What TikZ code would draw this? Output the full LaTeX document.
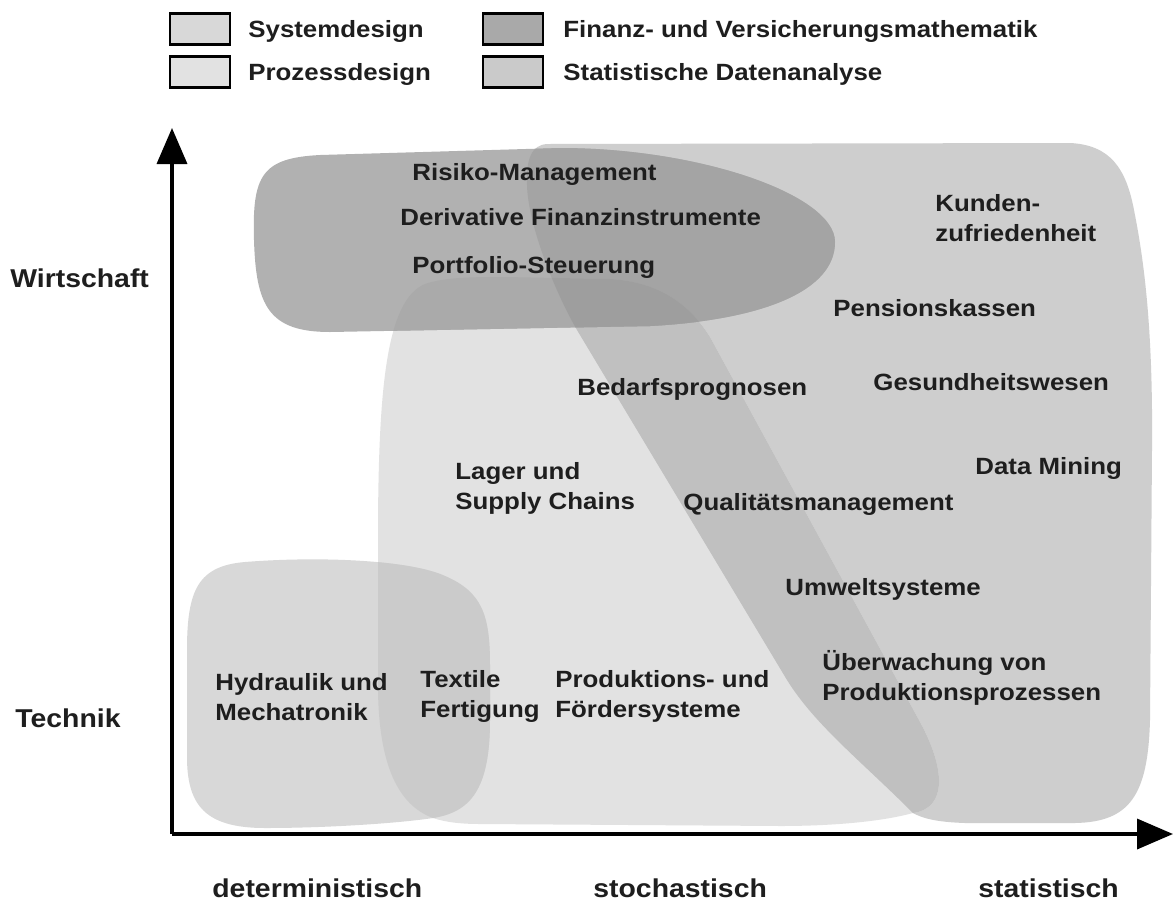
\documentclass[tikz,border=0pt]{standalone}
\usepackage{fontspec}
\setmainfont{Liberation Sans}[FakeStretch=1.1]
\usetikzlibrary{arrows.meta}
\definecolor{cSys}{HTML}{D8D8D8}
\definecolor{cSysPro}{HTML}{CBCBCB}
\definecolor{cPro}{HTML}{E2E2E2}
\definecolor{cStat}{HTML}{CECECE}
\definecolor{cBand}{HTML}{C0C0C0}
\definecolor{cFin}{HTML}{B1B1B1}
\definecolor{cFinStat}{HTML}{A4A4A4}
\definecolor{cFinPro}{HTML}{AAAAAA}
\definecolor{cFinAll}{HTML}{9E9E9E}
\definecolor{cLegFin}{HTML}{A9A9A9}
\definecolor{cLegStat}{HTML}{CACACA}
\definecolor{cText}{HTML}{1E1E1E}
\def\pFin{(254,240) .. controls (252,175) and (262,158) .. (320,155) -- (560,148) .. controls (700,148) and (835,195) .. (835,242) .. controls (835,292) and (760,320) .. (650,326) -- (330,332) .. controls (268,332) and (256,305) .. (254,240) -- cycle}
\def\pStat{(547,144) -- (1070,143) .. controls (1110,145) and (1126,168) .. (1134,210) .. controls (1146,270) and (1153,340) .. (1152,450) -- (1150,720) .. controls (1148,795) and (1130,822) .. (1075,823) -- (965,823) .. controls (935,822) and (922,818) .. (913,813) .. controls (860,760) and (815,725) .. (787,680) -- (577,330) .. controls (555,292) and (528,225) .. (527,185) .. controls (526,158) and (532,145) .. (547,144) -- cycle}
\def\pPro{(433,818) .. controls (398,805) and (379,765) .. (378,690) -- (378,520) .. controls (379,390) and (386,300) .. (425,284) .. controls (445,277) and (475,277) .. (505,277) -- (610,279) .. controls (660,282) and (690,305) .. (710,337) -- (920,722) .. controls (945,768) and (948,808) .. (913,813) .. controls (880,822) and (830,826) .. (780,826) -- (480,824) .. controls (460,824) and (445,822) .. (433,818) -- cycle}
\def\pSys{(187,650) .. controls (187,590) and (198,566) .. (245,562) .. controls (320,556) and (410,560) .. (445,576) .. controls (482,592) and (490,615) .. (490,665) -- (490,720) .. controls (490,790) and (470,812) .. (433,818) .. controls (400,823) and (330,828) .. (265,828) .. controls (205,828) and (188,805) .. (187,760) -- cycle}
\tikzset{
  lbl/.style={font=\bfseries\fontsize{11.75}{15}\selectfont, inner sep=0pt, anchor=base west, align=left, text=cText},
  axlbl/.style={lbl, font=\bfseries\fontsize{12.9}{15}\selectfont},
  legbox/.style={draw=black, line width=1.1pt, minimum width=30pt, minimum height=15.5pt, inner sep=0pt},
  axis/.style={line width=1.8pt, -{Triangle[length=18pt,width=15pt]}}
}
\begin{document}
\begin{tikzpicture}[x=0.5pt,y=-0.5pt]
\useasboundingbox (0,0) rectangle (1174,901);
\fill[white] (0,0) rectangle (1174,901);
% Statistische Datenanalyse and Prozessdesign
\fill[cStat] \pStat;
\fill[cPro] \pPro;
\begin{scope}
  \clip \pPro;
  \fill[cBand] \pStat;
\end{scope}
% Systemdesign
\fill[cSys] \pSys;
\begin{scope}
  \clip \pSys;
  \fill[cSysPro] \pPro;
\end{scope}
% Finanz- und Versicherungsmathematik
\fill[cFin] \pFin;
\begin{scope}
  \clip \pFin;
  \fill[cFinStat] \pStat;
  \fill[cFinPro] \pPro;
  \clip \pPro;
  \fill[cFinAll] \pStat;
\end{scope}
% axes
\coordinate (O) at (172,834);
\coordinate (ytip) at (172,128);
\coordinate (xtip) at (1173,834);
\draw[axis] (O) -- (ytip);
\draw[axis] (O) -- (xtip);
% legend
\node[legbox, fill=cSys] (lb1) at (200,29) {};
\node[legbox, fill=cPro] (lb2) at (200,72) {};
\node[legbox, fill=cLegFin] (lb3) at (513,29) {};
\node[legbox, fill=cLegStat] (lb4) at (513,72) {};
\node[lbl] (lt1) at (248,37) {Systemdesign};
\node[lbl] (lt2) at (248,80) {Prozessdesign};
\node[lbl] (lt3) at (563,37) {Finanz- und Versicherungsmathematik};
\node[lbl] (lt4) at (563,80) {Statistische Datenanalyse};
% axis labels
\node[axlbl] (wi) at (10,287) {Wirtschaft};
\node[axlbl] (te) at (15,727) {Technik};
\node[axlbl] (de) at (212,897) {deterministisch};
\node[axlbl] (sto) at (593,897) {stochastisch};
\node[axlbl] (sta) at (978,897) {statistisch};
% area labels
\node[lbl] (t1) at (412,180) {Risiko-Management};
\node[lbl] (t2) at (400,225) {Derivative Finanzinstrumente};
\node[lbl] (t3) at (412,273) {Portfolio-Steuerung};
\node[lbl] (t4) at (935,241) {Kunden-\\zufriedenheit};
\node[lbl] (t5) at (833,316) {Pensionskassen};
\node[lbl] (t6) at (577,395) {Bedarfsprognosen};
\node[lbl] (t7) at (873,390) {Gesundheitswesen};
\node[lbl] (t8) at (455,509) {Lager und\\Supply Chains};
\node[lbl] (t9) at (683,510) {Qualitätsmanagement};
\node[lbl] (t10) at (975,474) {Data Mining};
\node[lbl] (t11) at (785,595) {Umweltsysteme};
\node[lbl] (t12) at (822,700) {Überwachung von\\Produktionsprozessen};
\node[lbl] (t13) at (215,720) {Hydraulik und\\Mechatronik};
\node[lbl] (t14) at (420,717) {Textile\\Fertigung};
\node[lbl] (t15) at (555,717) {Produktions- und\\Fördersysteme};
\end{tikzpicture}
\end{document}
